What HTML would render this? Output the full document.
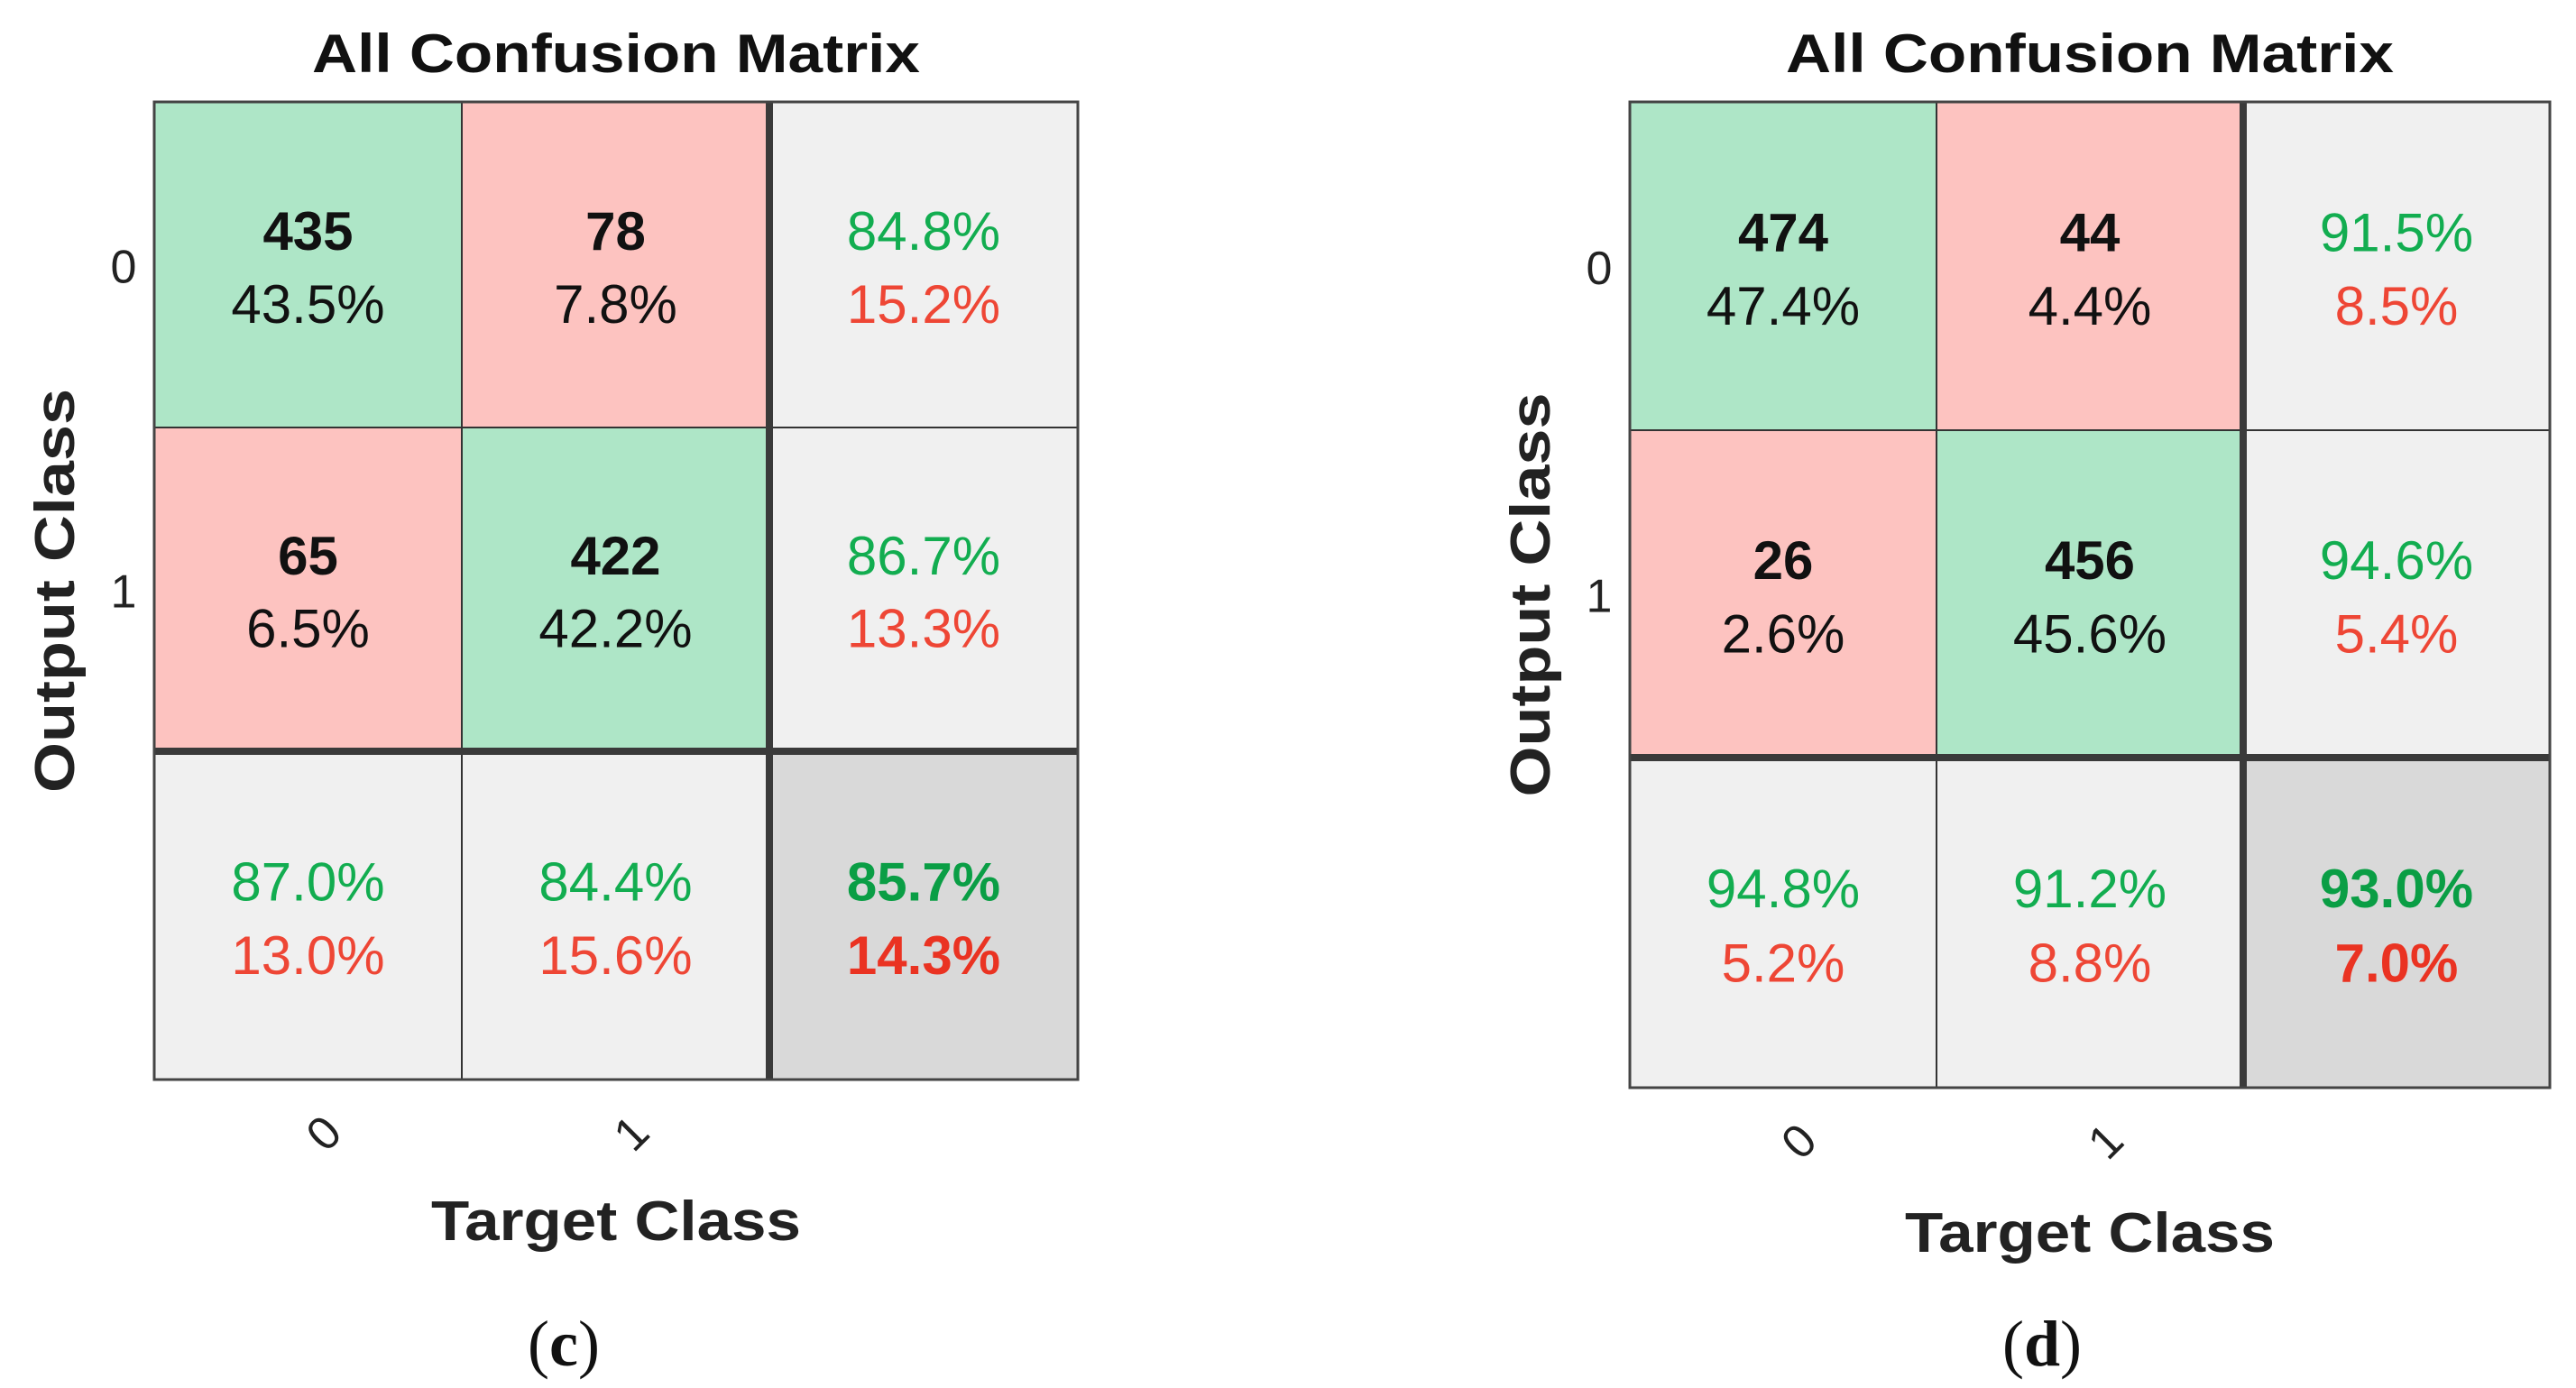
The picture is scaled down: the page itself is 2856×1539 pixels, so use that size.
<!DOCTYPE html>
<html><head><meta charset="utf-8"><style>
html,body{margin:0;padding:0;background:#fff;}
svg{display:block;font-family:"Liberation Sans",Arial,sans-serif;}
</style></head><body>
<svg id="svg" width="2856" height="1539" viewBox="0 0 2856 1539"></svg>
<script>
// Panel (c) data
const countsC = [[435, 78],[65, 422]];
const pctC = [["43.5%","7.8%"],["6.5%","42.2%"]];
const rowAccC = [["84.8%","15.2%"],["86.7%","13.3%"]];
const colAccC = [["87.0%","13.0%"],["84.4%","15.6%"]];
const totalC = ["85.7%","14.3%"];
// Panel (d) data
const countsD = [[474, 44],[26, 456]];
const pctD = [["47.4%","4.4%"],["2.6%","45.6%"]];
const rowAccD = [["91.5%","8.5%"],["94.6%","5.4%"]];
const colAccD = [["94.8%","5.2%"],["91.2%","8.8%"]];
const totalD = ["93.0%","7.0%"];
const classLabels = ["0","1"];

const NS = "http://www.w3.org/2000/svg";
const svg = document.getElementById("svg");
function mk(tag, attrs, parent, text){
  const e = document.createElementNS(NS, tag);
  for (const k in attrs) e.setAttribute(k, attrs[k]);
  if (text !== undefined) e.textContent = text;
  (parent||svg).appendChild(e);
  return e;
}
const GREEN="#aee6c7", RED="#fdc3c0", GREY="#f0f0f0", DGREY="#d9d9d9";
const TG="#12ad50", TR="#ee4635";

function panel(cfg){
  const g = mk("g",{});
  
  
  const xs = cfg.xs, ys = cfg.ys;
  const cell = (r,c,fill,l1,c1,b1,l2,c2,b2,name)=>{
    const rect = mk("rect",{x:xs[c],y:ys[r],width:xs[c+1]-xs[c],height:ys[r+1]-ys[r],fill:fill,stroke:"#333","stroke-width":2},g);
    
    
    const cx=(xs[c]+xs[c+1])/2, h=ys[r+1]-ys[r];
    const t1=mk("text",{x:cx,y:ys[r]+h*0.465-4,"text-anchor":"middle","font-size":60,"font-weight":b1?"bold":"normal",fill:c1},g,l1);
    
    
    const t2=mk("text",{x:cx,y:ys[r]+h*0.69-4,"text-anchor":"middle","font-size":60,"font-weight":b2?"bold":"normal",fill:c2},g,l2);
    
    
  };
  for(let r=0;r<2;r++){
    for(let c=0;c<2;c++){
      cell(r,c,r===c?GREEN:RED,String(cfg.counts[r][c]),"#111",true,cfg.pct[r][c],"#111",false,"cell-"+r+"-"+c);
    }
    cell(r,2,GREY,cfg.rowAcc[r][0],TG,false,cfg.rowAcc[r][1],TR,false,"row-summary-"+r);
  }
  for(let c=0;c<2;c++) cell(2,c,GREY,cfg.colAcc[c][0],TG,false,cfg.colAcc[c][1],TR,false,"col-summary-"+c);
  cell(2,2,DGREY,cfg.total[0],"#0a9e45",true,cfg.total[1],"#ea3322",true,"overall-accuracy");
  mk("line",{x1:xs[2],y1:ys[0],x2:xs[2],y2:ys[3],stroke:"#3a3a3a","stroke-width":8},g);
  mk("line",{x1:xs[0],y1:ys[2],x2:xs[3],y2:ys[2],stroke:"#3a3a3a","stroke-width":8},g);
  mk("rect",{x:xs[0],y:ys[0],width:xs[3]-xs[0],height:ys[3]-ys[0],fill:"none",stroke:"#444","stroke-width":3},g);
  const mid=(xs[0]+xs[3])/2;
  const title=mk("text",{x:mid,y:80,"text-anchor":"middle","font-size":60,"font-weight":"bold",fill:"#111",textLength:674,lengthAdjust:"spacingAndGlyphs"},g,"All Confusion Matrix");
  
  
  for(let i=0;i<2;i++){
    const yt=mk("text",{x:xs[0]-34,y:(ys[i]+ys[i+1])/2+20,"text-anchor":"middle","font-size":52,fill:"#222"},g,classLabels[i]);
    
    
    const tx=(xs[i]+xs[i+1])/2+30, ty=ys[3]+72;
    const xt=mk("text",{x:tx,y:ty,"text-anchor":"middle","font-size":52,fill:"#222",transform:`rotate(-45 ${tx} ${ty})`},g,classLabels[i]);
    
    
  }
  const yl=(ys[0]+ys[3])/2;
  const ylab=mk("text",{x:cfg.ylx,y:yl,"text-anchor":"middle","font-size":62,"font-weight":"bold",fill:"#222",textLength:448,lengthAdjust:"spacingAndGlyphs",transform:`rotate(-90 ${cfg.ylx} ${yl})`},g,"Output Class");
  
  
  const xlab=mk("text",{x:mid,y:cfg.xly,"text-anchor":"middle","font-size":62,"font-weight":"bold",fill:"#222",textLength:410,lengthAdjust:"spacingAndGlyphs"},g,"Target Class");
  
  
  const cap=mk("text",{x:cfg.capx,y:1514,"text-anchor":"middle","font-size":72,"font-family":"Liberation Serif, serif",fill:"#111"},g);
  
  
  mk("tspan",{},cap,"(");
  mk("tspan",{"font-weight":"bold"},cap,cfg.tag);
  mk("tspan",{},cap,")");
}
panel({tag:"c",xs:[171,512,853,1195],ys:[113,474,833,1197],counts:countsC,pct:pctC,rowAcc:rowAccC,colAcc:colAccC,total:totalC,ylx:82,xly:1375,capx:625});
panel({tag:"d",xs:[1807,2147,2487,2827],ys:[113,477,840,1206],counts:countsD,pct:pctD,rowAcc:rowAccD,colAcc:colAccD,total:totalD,ylx:1718,xly:1388,capx:2264});
</script>
</body></html>
